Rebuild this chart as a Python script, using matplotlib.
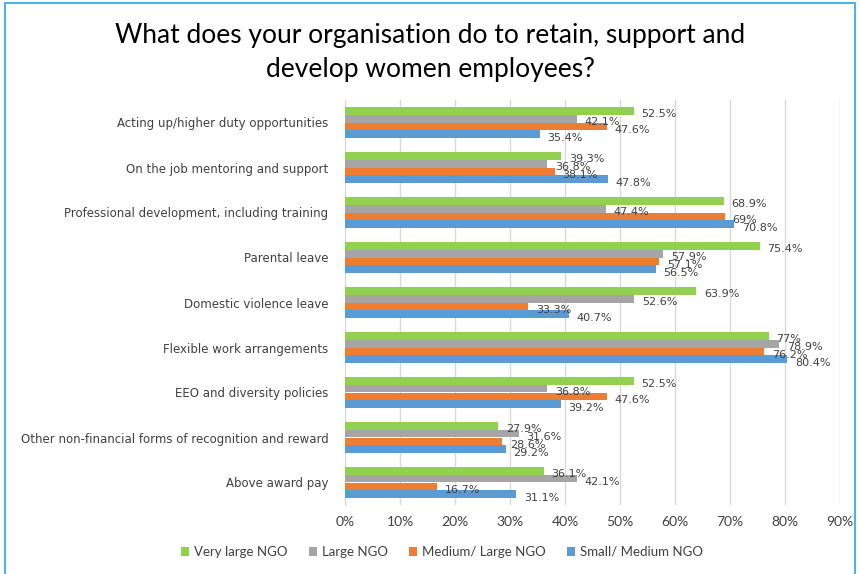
import matplotlib

matplotlib.use("Agg")
import matplotlib.pyplot as plt
import numpy as np
from matplotlib.patches import Rectangle

categories = [
    "Acting up/higher duty opportunities",
    "On the job mentoring and support",
    "Professional development, including training",
    "Parental leave",
    "Domestic violence leave",
    "Flexible work arrangements",
    "EEO and diversity policies",
    "Other non-financial forms of recognition and reward",
    "Above award pay",
]
series_names = ["Very large NGO", "Large NGO", "Medium/ Large NGO", "Small/ Medium NGO"]
very_large = [52.5, 39.3, 68.9, 75.4, 63.9, 77, 52.5, 27.9, 36.1]
large = [42.1, 36.8, 47.4, 57.9, 52.6, 78.9, 36.8, 31.6, 42.1]
medium_large = [47.6, 38.1, 69, 57.1, 33.3, 76.2, 47.6, 28.6, 16.7]
small_medium = [35.4, 47.8, 70.8, 56.5, 40.7, 80.4, 39.2, 29.2, 31.1]
x_ticks = [0, 10, 20, 30, 40, 50, 60, 70, 80, 90]

colors = ["#92D050", "#A5A5A5", "#ED7D31", "#5B9BD5"]
series = [very_large, large, medium_large, small_medium]

fig = plt.figure(figsize=(8.6, 5.74), dpi=100)
ax = fig.add_axes([345 / 860, 1 - 505 / 574, 495 / 860, 405 / 574])

# outer chart border
fig.patches.append(Rectangle((5 / 860, -0.05), 850 / 860, 1.05 - 3 / 574,
                             transform=fig.transFigure, fill=False,
                             edgecolor="#4FB3E8", linewidth=1.5))

y = np.arange(len(categories))
bar_h = 0.175
for i, (vals, col, name) in enumerate(zip(series, colors, series_names)):
    pos = y + (i - 1.5) * bar_h
    ax.barh(pos, vals, height=bar_h, color=col, label=name, zorder=3)
    for p, v in zip(pos, vals):
        ax.text(v + 1.4, p + 0.45 * bar_h, f"{v:g}%", va="center", ha="left",
                fontsize=8, color="#404040", family="DejaVu Sans", zorder=4)

ax.set_ylim(len(categories) - 0.5, -0.5)
ax.set_xlim(0, 90)
ax.set_xticks(x_ticks)
ax.set_xticklabels([f"{t}%" for t in x_ticks], family="Lato", fontsize=10, color="#404040")
ax.set_yticks(y)
ax.set_yticklabels(categories, family="DejaVu Sans", fontsize=8.5, color="#404040")
ax.tick_params(length=0, pad=8)
ax.tick_params(axis="y", pad=12)
ax.grid(axis="x", color="#D9D9D9", linewidth=1, zorder=0)
for s in ["top", "right", "bottom"]:
    ax.spines[s].set_visible(False)
ax.spines["left"].set_color("#D9D9D9")

fig.text(0.5, 1 - 53 / 574, "What does your organisation do to retain, support and\ndevelop women employees?",
         ha="center", va="center", fontsize=19, family="Lato", color="black",
         linespacing=1.45)

leg = fig.legend(loc="center", bbox_to_anchor=(442 / 860, 1 - 552 / 574), ncol=4, frameon=False,
                 prop={"family": "Lato", "size": 9.5}, handlelength=0.6, handleheight=0.6,
                 handletextpad=0.4, columnspacing=1.6)
for t in leg.get_texts():
    t.set_color("#404040")

fig.savefig("out.png", dpi=100)
